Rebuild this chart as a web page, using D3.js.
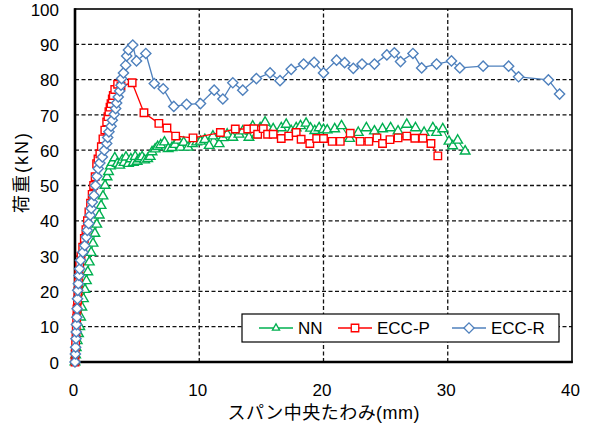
<!DOCTYPE html>
<html lang="ja">
<head>
  <meta charset="UTF-8">
  <title>荷重-スパン中央たわみ</title>
  <script src="https://d3js.org/d3.v7.min.js"></script>
  <style>
    body { margin: 0; background: #fff; }
    text {
      font-family: "Liberation Sans", Arial, "Noto Sans CJK JP", sans-serif;
      fill: #000;
    }
    .grid line {
      stroke: #111;
      stroke-width: 1.3px;
      stroke-dasharray: 4,2.5;
    }
  </style>
</head>
<body>
  <svg width="589" height="428"></svg>

  <script>
    // axis ticks
    const xTicks = [0, 10, 20, 30, 40];
    const yTicks = [0, 10, 20, 30, 40, 50, 60, 70, 80, 90, 100];

    const seriesNames = ["NN", "ECC-P", "ECC-R"];

    // [deflection (mm), load (kN)]
    const nn = [
      [0, 0], [0.05, 2], [0.1, 4], [0.18, 6], [0.28, 8], [0.38, 10], [0.45, 12.7],
      [0.55, 15.5], [0.68, 17.9], [0.8, 20.5], [0.92, 23], [1.03, 25.5], [1.15, 28.3],
      [1.3, 31], [1.45, 33.6], [1.6, 36.4], [1.75, 39], [1.95, 41.6], [2.1, 44.3],
      [2.25, 47], [2.42, 50], [2.58, 52.4], [2.7, 53.9], [2.85, 55.5], [3.0, 56.5],
      [3.2, 57.8], [3.4, 56.2], [3.6, 55.7], [3.8, 57.2], [3.95, 56.5], [4.1, 58],
      [4.3, 56.2], [4.5, 57.5], [4.7, 56.5], [4.85, 58.2], [5.0, 56.8], [5.2, 57.5],
      [5.4, 58.1], [5.6, 57.2], [5.85, 57.6], [6.05, 58.2], [6.2, 59.5], [6.45, 60.3],
      [6.65, 61], [6.9, 61.5], [7.2, 62.3], [7.5, 60.4], [7.8, 60.7], [8.05, 61.6],
      [8.3, 62.8], [8.5, 60.8], [8.75, 62.2], [9.1, 60.8], [9.45, 61.8], [9.8, 62.3],
      [10.1, 62.5], [10.45, 63], [10.8, 61.3], [11.1, 64], [11.6, 61.8], [11.9, 63.5],
      [12.25, 64.5], [12.7, 63.6], [13.2, 64.5], [13.5, 65.4], [14.0, 63.6], [14.3, 66.8],
      [14.6, 64.3], [14.9, 66.3], [15.3, 67.9], [15.95, 66], [16.6, 66.3], [17.0, 67.3],
      [17.4, 65.5], [17.8, 66.3], [18.15, 66.9], [18.6, 67.6], [18.96, 66.2], [19.3, 65.5],
      [19.65, 66.3], [20.0, 65.8], [20.3, 65.7], [20.9, 66], [21.45, 66.9], [22.1, 63.3],
      [22.8, 65], [23.45, 66.3], [24.1, 65.4], [24.75, 66], [25.4, 66.3], [26.0, 65.4],
      [26.7, 67.3], [27.4, 66.3], [28.1, 65], [28.8, 66.3], [29.1, 65], [29.6, 66],
      [30.1, 62.5], [30.4, 61.2], [30.8, 62.8], [31.4, 59.7]
    ];

    const eccP = [
      [0, 0], [0.02, 2.5], [0.05, 5], [0.08, 7.5], [0.1, 10], [0.13, 12.5], [0.16, 15],
      [0.2, 17.5], [0.24, 20], [0.28, 22.5], [0.32, 25], [0.38, 27.5], [0.48, 30],
      [0.62, 32.5], [0.75, 35], [0.88, 37.5], [1.0, 40], [1.12, 42.5], [1.25, 45],
      [1.38, 47.5], [1.5, 50], [1.62, 52.5], [1.74, 56.2], [1.85, 57.5], [2.0, 59],
      [2.12, 61], [2.25, 63.2], [2.4, 65.7], [2.55, 68], [2.65, 69.5], [2.73, 70.9],
      [2.82, 72.2], [2.9, 73.2], [3.0, 74.5], [3.08, 75.5], [3.2, 77.2], [3.43, 78.7],
      [3.7, 78.2], [4.6, 79.1], [5.55, 70.6], [6.75, 67.6], [7.4, 66.3], [8.1, 64],
      [9.5, 63.5], [11.7, 65], [12.9, 66], [13.9, 66], [14.4, 66.1], [14.7, 64.5],
      [15.15, 66.1], [15.5, 64.5], [15.95, 64.5], [16.6, 63.3], [17.2, 64], [17.8, 65],
      [18.2, 63.1], [18.9, 61.9], [19.45, 63.3], [20.0, 63.3], [20.7, 62.5], [21.35, 62.5],
      [22.15, 64.8], [22.95, 62.5], [23.65, 62.5], [24.3, 63.5], [24.75, 61.9], [25.35, 63],
      [26.0, 63.5], [26.7, 64], [27.35, 63.4], [28.0, 63.4], [28.65, 61.9], [29.2, 58.4]
    ];

    const eccR = [
      [0, 0], [0.03, 2.3], [0.05, 4.2], [0.08, 6.6], [0.1, 8.5], [0.12, 10.6], [0.15, 12.7],
      [0.17, 15.1], [0.2, 17.9], [0.22, 20.3], [0.27, 22.2], [0.32, 24.5], [0.37, 26.4],
      [0.45, 28.8], [0.64, 31.1], [0.78, 33], [0.91, 35.4], [0.99, 37.3], [1.1, 39.2],
      [1.23, 41.6], [1.31, 43.5], [1.39, 45.3], [1.53, 47.2], [1.65, 50], [1.76, 52.6],
      [1.87, 54.8], [2.0, 56.4], [2.2, 58.1], [2.36, 60], [2.55, 61.9], [2.63, 63.6],
      [2.73, 65.2], [2.9, 66.8], [3.0, 68.5], [3.16, 70.2], [3.27, 71.8], [3.35, 73.4],
      [3.48, 75.1], [3.6, 76.8], [3.7, 78.4], [3.75, 80.3], [3.9, 81.9], [4.08, 84.1],
      [4.16, 86.7], [4.3, 88.4], [4.65, 89.8], [4.95, 85.3], [5.7, 87.4], [6.38, 78.9],
      [7.1, 77.4], [7.95, 72.4], [8.98, 73], [10.1, 73.2], [11.2, 77], [11.9, 74.5],
      [12.7, 79.1], [13.5, 77], [14.6, 80.3], [15.7, 81.9], [16.5, 79.7], [17.4, 82.9],
      [18.4, 84.4], [19.25, 84.9], [20.0, 81.9], [21.05, 85.5], [21.7, 84.8], [22.4, 83.2],
      [23.1, 84.4], [24.1, 84.4], [25.1, 87], [25.7, 87.6], [26.2, 85.1], [27.2, 87.4],
      [27.9, 83.3], [29.1, 84.4], [30.3, 85.3], [30.97, 83.3], [32.85, 83.8], [34.9, 83.8],
      [35.7, 80.8], [38.1, 79.9], [39.0, 75.9]
    ];

    const svg = d3.select("svg");

    const x = d3.scaleLinear().domain([0, 40]).range([75, 572]);
    const y = d3.scaleLinear().domain([0, 100]).range([362, 9]);

    // dashed grid
    const grid = svg.append("g").attr("class", "grid");
    grid.selectAll(".gy")
      .data(yTicks.slice(1, -1))
      .enter().append("line")
      .attr("x1", x(0)).attr("x2", x(40))
      .attr("y1", d => y(d)).attr("y2", d => y(d));
    grid.selectAll(".gx")
      .data(xTicks.slice(1, -1))
      .enter().append("line")
      .attr("y1", y(0)).attr("y2", y(100))
      .attr("x1", d => x(d)).attr("x2", d => x(d));

    // plot border
    svg.append("rect")
      .attr("x", x(0)).attr("y", y(100))
      .attr("width", x(40) - x(0)).attr("height", y(0) - y(100))
      .attr("fill", "none").attr("stroke", "#000").attr("stroke-width", 1.6);

    // main axes (thicker)
    svg.append("line")
      .attr("x1", x(0)).attr("x2", x(0)).attr("y1", y(100) - 0.8).attr("y2", y(0) + 1.3)
      .attr("stroke", "#000").attr("stroke-width", 2.6);
    svg.append("line")
      .attr("x1", x(0) - 1.3).attr("x2", x(40) + 0.8).attr("y1", y(0)).attr("y2", y(0))
      .attr("stroke", "#000").attr("stroke-width", 2.6);

    // tick labels
    svg.append("g")
      .attr("transform", `translate(${x(0) - 2},0)`)
      .call(d3.axisLeft(y).tickValues(yTicks).tickSize(0).tickPadding(14))
      .call(g => g.select(".domain").remove())
      .selectAll("text")
      .style("font-family", "\"Liberation Sans\", Arial, sans-serif")
      .style("font-size", "17px")
      .attr("dy", "0.36em");

    svg.append("g")
      .attr("transform", `translate(-2,${y(0)})`)
      .call(d3.axisBottom(x).tickValues(xTicks).tickSize(0).tickPadding(22))
      .call(g => g.select(".domain").remove())
      .selectAll("text")
      .style("font-family", "\"Liberation Sans\", Arial, sans-serif")
      .style("font-size", "17px");

    // axis titles
    svg.append("text")
      .attr("x", (x(0) + x(40)) / 2)
      .attr("y", 419)
      .attr("text-anchor", "middle")
      .style("font-size", "18px")
      .attr("textLength", 192)
      .text("スパン中央たわみ(mm)");

    svg.append("text")
      .attr("transform", "translate(28,173) rotate(-90)")
      .attr("text-anchor", "middle")
      .style("font-size", "18px")
      .attr("textLength", 80)
      .text("荷重(kN)");

    // marker shapes
    const symTri = d3.symbol().type(d3.symbolTriangle).size(40);
    const symSq = d3.symbol().type(d3.symbolSquare).size(56);
    const symDia = d3.symbol().type({
      draw(ctx, size) {
        const r = Math.sqrt(size / 2);
        ctx.moveTo(0, -r); ctx.lineTo(r, 0); ctx.lineTo(0, r); ctx.lineTo(-r, 0); ctx.closePath();
      }
    }).size(52);

    const styles = [
      { data: nn, color: "#00B050", sym: symTri, lw: 1.1 },
      { data: eccP, color: "#FF0000", sym: symSq, lw: 1.3 },
      { data: eccR, color: "#4F81BD", sym: symDia, lw: 1.3 }
    ];

    const line = d3.line().x(d => x(d[0])).y(d => y(d[1]));

    styles.forEach(s => {
      const g = svg.append("g");
      g.append("path")
        .attr("d", line(s.data))
        .attr("fill", "none")
        .attr("stroke", s.color)
        .attr("stroke-width", s.lw);
      g.selectAll("path.m")
        .data(s.data)
        .enter().append("path")
        .attr("class", "m")
        .attr("d", s.sym)
        .attr("transform", d => `translate(${x(d[0])},${y(d[1])})`)
        .attr("fill", "#fff")
        .attr("stroke", s.color)
        .attr("stroke-width", 1.4);
    });

    // legend
    const legend = svg.append("g");
    legend.append("rect")
      .attr("x", 242).attr("y", 314).attr("width", 317).attr("height", 28)
      .attr("fill", "#fff").attr("stroke", "#000").attr("stroke-width", 1.2);

    const legendX = [259, 338, 452];
    seriesNames.forEach((name, i) => {
      const s = styles[i];
      const lx = legendX[i];
      legend.append("line")
        .attr("x1", lx).attr("x2", lx + 34).attr("y1", 328).attr("y2", 328)
        .attr("stroke", s.color).attr("stroke-width", 1.3);
      legend.append("path")
        .attr("d", i === 0 ? d3.symbol().type(d3.symbolTriangle).size(22)() : s.sym())
        .attr("transform", `translate(${lx + 17},328)`)
        .attr("fill", "#fff").attr("stroke", s.color).attr("stroke-width", 1.3);
      legend.append("text")
        .attr("x", lx + 39).attr("y", 334)
        .style("font-size", "17px")
        .text(name);
    });
  </script>
</body>
</html>
